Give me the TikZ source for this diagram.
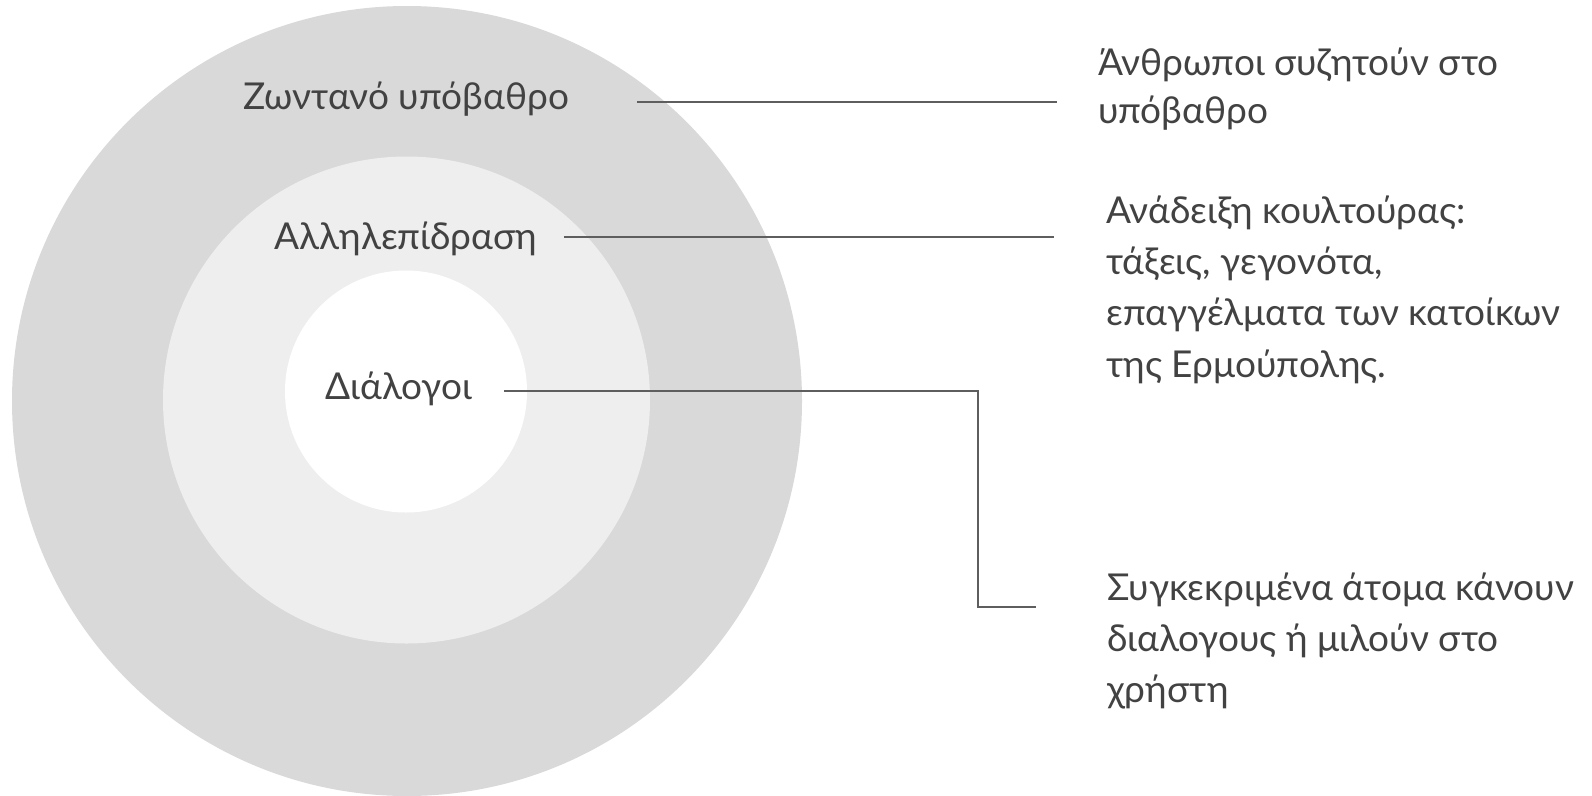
\documentclass[tikz,border=0pt]{standalone}
\usepackage{fontspec}
\setmainfont{Lato}
\definecolor{outerfill}{HTML}{D9D9D9}
\definecolor{midfill}{HTML}{EEEEEE}
\definecolor{txt}{HTML}{424242}
\definecolor{conn}{HTML}{5E5E5E}
\tikzset{
  lbl/.style={inner sep=0pt, text=txt, font=\fontsize{37}{44}\selectfont, anchor=base},
  desc/.style={inner sep=0pt, text=txt, font=\fontsize{37}{44}\selectfont, anchor=base west},
  connector/.style={draw=conn, line width=2pt}
}
\begin{document}
\begin{tikzpicture}[x=1pt,y=-1pt]
\useasboundingbox (0,0) rectangle (1592,795);
\fill[white] (0,0) rectangle (1592,795);
% rings
\fill[outerfill] (407,401) circle (395);
\fill[midfill] (406.5,400) circle (243.5);
\fill[white] (406,391.5) circle (121);
% ring labels
\node[lbl] (live) at (406,109.5) {Ζωντανό υπόβαθρο};
\node[lbl] (inter) at (406,249) {Αλληλεπίδραση};
\node[lbl] (dial) at (399,399.5) {Διάλογοι};
% descriptions
\node[desc] (d1a) at (1098,75) {Άνθρωποι συζητούν στο};
\node[desc] (d1b) at (1098,123) {υπόβαθρο};
\node[desc] (d2a) at (1106,223) {Ανάδειξη κουλτούρας:};
\node[desc] (d2b) at (1106,274) {τάξεις, γεγονότα,};
\node[desc] (d2c) at (1106,325) {επαγγέλματα των κατοίκων};
\node[desc] (d2d) at (1106,377) {της Ερμούπολης.};
\node[desc] (d3a) at (1107,600) {Συγκεκριμένα άτομα κάνουν};
\node[desc] (d3b) at (1107,651) {διαλογους ή μιλούν στο};
\node[desc] (d3c) at (1107,702) {χρήστη};
% connector ends
\coordinate (c1s) at (637,102);
\coordinate (c1e) at (1057,102);
\coordinate (c2s) at (564,237);
\coordinate (c2e) at (1054,237);
\coordinate (c3s) at (504,391);
\coordinate (c3k) at (978,391);
\coordinate (c3m) at (978,607);
\coordinate (c3e) at (1036,607);
\draw[connector] (c1s) -- (c1e);
\draw[connector] (c2s) -- (c2e);
\draw[connector] (c3s) -- (c3k) -- (c3m) -- (c3e);
\end{tikzpicture}
\end{document}
